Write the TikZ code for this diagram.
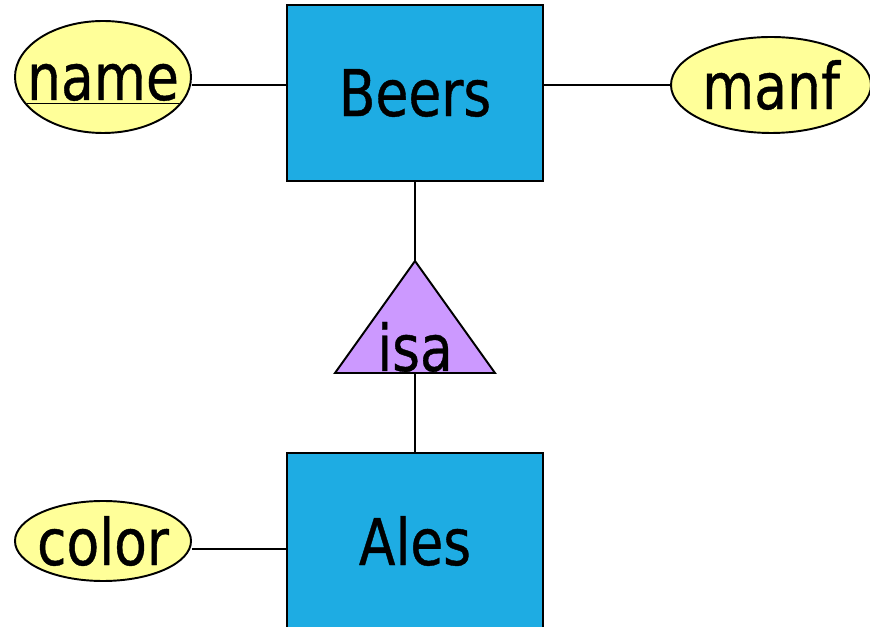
\documentclass[tikz,border=0pt]{standalone}
\usepackage{fontspec}
\newfontfamily\erfont[FakeStretch=0.83, FakeBold=0.6]{DejaVu Sans}
\usetikzlibrary{shapes.geometric}
\definecolor{entityblue}{RGB}{30, 172, 227}
\definecolor{attryellow}{RGB}{255, 255, 153}
\definecolor{isapurple}{RGB}{204, 153, 255}

\begin{document}
\begin{tikzpicture}
  [
    every node/.style={font=\erfont\fontsize{36.7}{40}\selectfont, inner sep=0pt},
    link/.style={line width=1.1pt},
    entity/.style={draw, line width=1.1pt, fill=entityblue, minimum width=5.12cm, minimum height=3.52cm},
    attr/.style={draw, line width=1.1pt, fill=attryellow, ellipse},
    isabox/.style={draw, line width=1.1pt, fill=isapurple, line join=miter}
  ]
  \useasboundingbox (0, 0) rectangle (17.4, -12.54);

  \node[entity] (beers) at (8.3, -1.86) {Beers};
  \node[entity] (ales) at (8.3, -10.82) {Ales};

  % attribute ellipses: text boxes kept at zero width so the sizes below hold
  \node[attr, minimum width=3.52cm, minimum height=2.24cm] (name) at (2.06, -1.54)
    {\makebox[0pt]{\raisebox{-0.46cm}[0pt][0pt]{\underline{name}}}};
  \node[attr, minimum width=4.0cm, minimum height=1.92cm] (manf) at (15.42, -1.7) {\makebox[0pt]{manf}};
  \node[attr, minimum width=3.52cm, minimum height=1.6cm] (color) at (2.06, -10.82) {\makebox[0pt]{color}};

  % isa triangle
  \coordinate (isatop) at (8.3, -5.22);
  \coordinate (isabot) at (8.3, -7.46);
  \draw[isabox] (isatop) -- (9.9, -7.46) -- (6.7, -7.46) -- cycle;
  \node[anchor=base] (isa) at (8.3, -7.42) {isa};

  \draw[link] ([yshift=-0.16cm]name.east) -- ([yshift=0.16cm]beers.west);
  \draw[link] ([yshift=0.16cm]beers.east) -- (manf.west);
  \draw[link] (beers.south) -- (isatop);
  \draw[link] (isabot) -- (ales.north);
  \draw[link] ([yshift=-0.16cm]color.east) -- ([yshift=-0.16cm]ales.west);
\end{tikzpicture}
\end{document}
